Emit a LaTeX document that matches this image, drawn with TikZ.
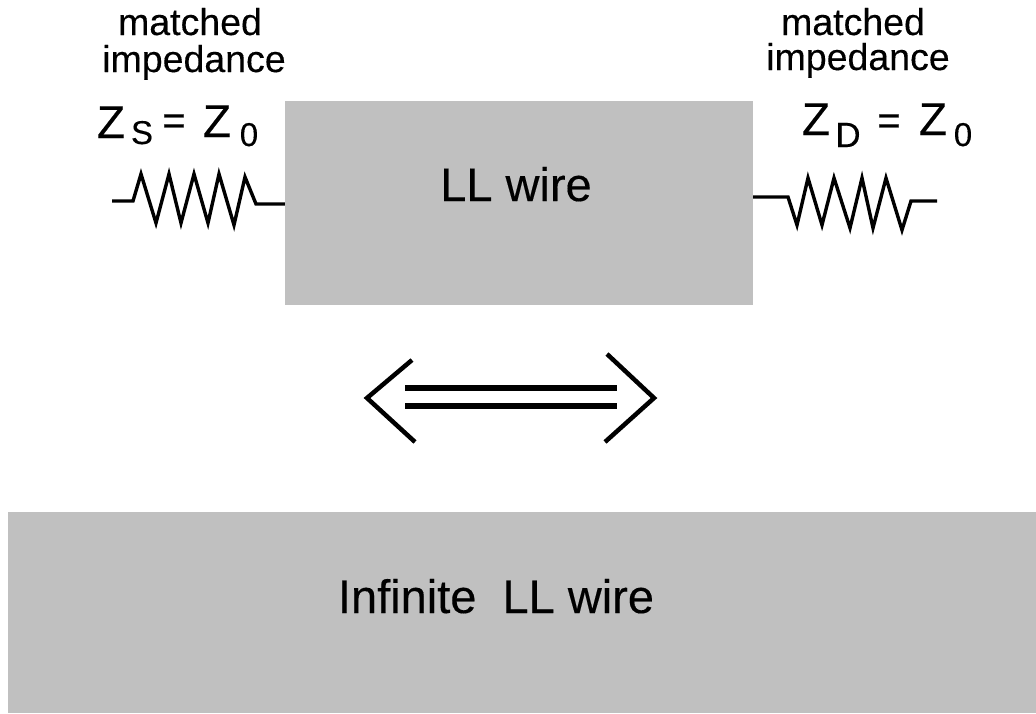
\documentclass[tikz,border=0pt]{standalone}
\usepackage{fontspec}
\setmainfont[FakeBold=0.3]{Liberation Sans}
\definecolor{wiregray}{HTML}{C0C0C0}
\tikzset{
  wirebox/.style={fill=wiregray,draw=none,inner sep=0pt,minimum width=#1},
  lbl/.style={inner sep=0pt,text=black,anchor=base},
  res/.style={line width=3.4pt,line join=miter,black},
  chev/.style={line width=4.5pt,line join=miter,black},
  bar/.style={line width=6pt,black}
}
\newcommand{\smalltxt}[1]{\fontsize{37.5}{37.5}\selectfont #1}
\newcommand{\bigtxt}[1]{\fontsize{47}{47}\selectfont #1}
\newcommand{\ztxt}[1]{\fontsize{46}{46}\selectfont #1}
\newcommand{\subtxt}[1]{\fontsize{33}{33}\selectfont #1}
\begin{document}
\begin{tikzpicture}[x=1pt,y=-1pt]
\useasboundingbox (0,0) rectangle (1036,713);
\node[wirebox=468pt,minimum height=204pt] (ll) at (519,203) {};
\node[wirebox=1028pt,minimum height=201pt] (inf) at (522,612.5) {};
\node[lbl] (m1) at (190,35) {\smalltxt{matched}};
\node[lbl] (i1) at (194,72) {\smalltxt{impedance}};
\node[lbl] (m2) at (853,35) {\smalltxt{matched}};
\node[lbl] (i2) at (858,70) {\smalltxt{impedance}};
\node[lbl] (zs) at (111,138) {\ztxt{Z}};
\node[lbl] (ss) at (142,144) {\subtxt{S}};
\node[lbl] (eq1) at (174,134) {\fontsize{40}{40}\selectfont =};
\node[lbl] (z01) at (217,137) {\ztxt{Z}};
\node[lbl] (o1) at (249,146) {\subtxt{0}};
\node[lbl] (zd) at (816,135) {\ztxt{Z}};
\node[lbl] (dd) at (848,147) {\fontsize{35}{35}\selectfont D};
\node[lbl] (eq2) at (889,134) {\fontsize{40}{40}\selectfont =};
\node[lbl] (z02) at (933,135) {\ztxt{Z}};
\node[lbl] (o2) at (963,146) {\subtxt{0}};
\node[lbl] (lt) at (516,201) {\bigtxt{LL wire}};
\node[lbl] (it) at (496,613) {\bigtxt{Infinite\ \ LL wire}};
\coordinate (a) at (112,201);
\coordinate (b) at (937,201);
\draw[res] (a) -- (133,201) -- (141,174) -- (156,223) -- (169,174) -- (181,223) -- (194,174) -- (208,223) -- (219,174) -- (234,225) -- (245,177) -- (256,204) -- (ll.west|-0,204);
\draw[res] (ll.east|-0,197) -- (788,197) -- (797,225) -- (808,178) -- (822,225) -- (834,178) -- (850,228) -- (862,178) -- (873,228) -- (886,178) -- (902,230) -- (911,201) -- (b);
\coordinate (l1) at (412,360); \coordinate (l2) at (367,398); \coordinate (l3) at (415,442);
\coordinate (r1) at (607,354); \coordinate (r2) at (654,398); \coordinate (r3) at (605,442);
\draw[chev] (l1) -- (l2) -- (l3);
\draw[chev] (r1) -- (r2) -- (r3);
\coordinate (t1) at (405,388); \coordinate (t2) at (617,388);
\coordinate (u1) at (405,406); \coordinate (u2) at (617,406);
\draw[bar] (t1) -- (t2);
\draw[bar] (u1) -- (u2);
\end{tikzpicture}
\end{document}
